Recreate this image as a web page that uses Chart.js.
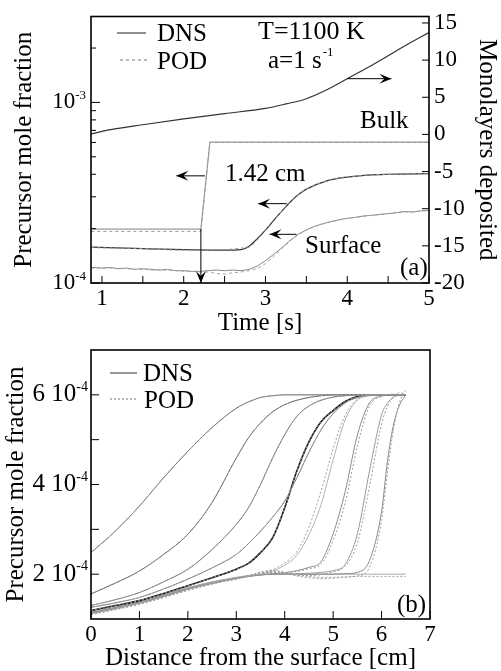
<!DOCTYPE html>
<html>
<head>
<meta charset="utf-8">
<script src="https://cdn.jsdelivr.net/npm/chart.js@4.4.0/dist/chart.umd.min.js"></script>
<style>
  html, body { margin: 0; padding: 0; background: #fff; }
  #panelA { position: absolute; left: 0; top: 0; width: 501px; height: 340px; }
  #panelB { position: absolute; left: 0; top: 340px; width: 501px; height: 331px; }
</style>
</head>
<body>
<div id="panelA"><canvas id="chartA"></canvas></div>
<div id="panelB"><canvas id="chartB"></canvas></div>
<script>
// ---- panel (a): values vs time, mole fractions in units of 1e-4 ----
const monoTime = [0.87, 1, 1.5, 2, 2.5, 3, 3.25, 3.5, 3.75, 4, 4.25, 4.5, 4.75, 5];
const monoDNS  = [0.05, 0.4, 1.3, 2.1, 2.8, 3.5, 4.1, 4.8, 6.0, 7.5, 9.0, 10.6, 12.2, 13.7];

const stepTime = [0.87, 2.21, 2.32, 5];
const stepDNS  = [1.99, 1.99, 6.02, 6.02];
const stepPOD  = [1.93, 1.93, 6.0, 6.0];

const midTime = [0.87, 1.5, 2, 2.5, 2.7, 2.8, 2.9, 3, 3.1, 3.2, 3.3, 3.4, 3.5, 3.75, 4, 4.25, 4.5, 5];
const midDNS  = [1.58, 1.55, 1.53, 1.52, 1.53, 1.6, 1.76, 1.96, 2.22, 2.5, 2.8, 3.08, 3.31, 3.68, 3.86, 3.96, 4.0, 4.03];
const midPOD  = [1.57, 1.55, 1.52, 1.53, 1.56, 1.58, 1.73, 1.95, 2.2, 2.5, 2.8, 3.08, 3.31, 3.68, 3.86, 3.96, 4.0, 4.03];

const surfTime = [0.87, 1.0, 1.1, 1.2, 1.3, 1.4, 1.5, 1.6, 1.7, 1.8, 1.9, 2.0, 2.1, 2.2, 2.3, 2.4, 2.5, 2.6, 2.7, 2.8,
                  2.9, 3.0, 3.1, 3.2, 3.3, 3.4, 3.5, 3.6, 3.7, 3.8, 3.9, 4.0, 4.1, 4.2, 4.3, 4.4, 4.5, 4.6, 4.7, 4.8, 4.9, 5.0];
const surfDNS  = [1.22, 1.21, 1.22, 1.20, 1.21, 1.19, 1.20, 1.19, 1.18, 1.19, 1.17, 1.17, 1.16, 1.16, 1.17, 1.18, 1.17, 1.18, 1.17, 1.19,
                  1.24, 1.33, 1.44, 1.57, 1.72, 1.86, 1.97, 2.06, 2.13, 2.19, 2.24, 2.28, 2.31, 2.35, 2.37, 2.40, 2.42, 2.45, 2.49, 2.47, 2.51, 2.52];
const surfPOD  = [1.21, 1.21, 1.21, 1.20, 1.20, 1.19, 1.19, 1.18, 1.18, 1.18, 1.17, 1.16, 1.16, 1.15, 1.15, 1.13, 1.12, 1.14, 1.15, 1.17,
                  1.20, 1.28, 1.40, 1.55, 1.71, 1.85, 1.96, 2.05, 2.12, 2.18, 2.23, 2.28, 2.31, 2.34, 2.37, 2.39, 2.42, 2.45, 2.47, 2.48, 2.50, 2.52];

const timeTicks  = [1, 1.5, 2, 2.5, 3, 3.5, 4, 4.5, 5];
const fracTicksA = [1, 2, 3, 4, 5, 6, 7, 8, 9, 10, 20];
const monoTicks  = [-20, -15, -10, -5, 0, 5, 10, 15];

// arrows in data units: [x1, y1, x2, y2, axis]
const arrowsA = [
  [4.0, 7.5, 4.54, 7.5, 'y2'],
  [2.26, 3.92, 1.91, 3.92, 'y'],
  [3.26, 2.75, 2.91, 2.75, 'y'],
  [3.38, 1.86, 3.05, 1.86, 'y'],
  [2.21, 1.99, 2.21, 1.0, 'y']
];

// ---- panel (b): profiles vs distance, units of 1e-4 ----
const distX = [0, 0.5, 1, 1.5, 2, 2.5, 3, 3.25, 3.5, 3.75, 4, 4.25, 4.5, 4.75, 5, 5.25, 5.5, 5.75, 6, 6.125, 6.25, 6.375, 6.5];
const dns1  = [2.48, 2.96, 3.52, 4.15, 4.74, 5.27, 5.70, 5.84, 5.94, 5.98, 6, 6, 6, 6, 6, 6, 6, 6, 6, 6, 6, 6, 6];
const dns2  = [1.56, 1.80, 2.07, 2.44, 2.89, 3.60, 4.59, 5.04, 5.37, 5.62, 5.78, 5.88, 5.94, 5.98, 6, 6, 6, 6, 6, 6, 6, 6, 6];
const dns3  = [1.30, 1.43, 1.59, 1.83, 2.11, 2.55, 3.11, 3.48, 4.00, 4.59, 5.11, 5.52, 5.75, 5.88, 5.95, 5.98, 6, 6, 6, 6, 6, 6, 6];
const dns4  = [1.26, 1.36, 1.48, 1.67, 1.89, 2.14, 2.44, 2.68, 2.96, 3.27, 3.63, 4.15, 4.72, 5.22, 5.58, 5.82, 5.94, 5.99, 6, 6, 6, 6, 6];
const dns5  = [1.19, 1.30, 1.41, 1.57, 1.74, 1.92, 2.11, 2.24, 2.48, 2.81, 3.48, 4.30, 4.95, 5.40, 5.65, 5.85, 5.96, 6, 6, 6, 6, 6, 6];
const dns6  = [1.17, 1.28, 1.40, 1.55, 1.70, 1.83, 1.93, 1.97, 2.00, 2.07, 2.20, 2.42, 2.88, 3.55, 4.55, 5.45, 5.88, 5.98, 6, 6, 6, 6, 6];
const dns7  = [1.15, 1.26, 1.38, 1.53, 1.69, 1.82, 1.92, 1.96, 1.99, 2.01, 2.03, 2.08, 2.15, 2.28, 2.90, 3.85, 5.10, 5.82, 5.97, 5.99, 6, 6, 6];
const dns8  = [1.14, 1.25, 1.37, 1.52, 1.68, 1.81, 1.92, 1.96, 1.99, 2.00, 2.00, 2.01, 2.02, 2.04, 2.08, 2.22, 2.90, 4.30, 5.55, 5.82, 5.95, 5.99, 6];
const dns9  = [1.13, 1.24, 1.36, 1.51, 1.67, 1.80, 1.91, 1.95, 1.98, 2.00, 2.00, 2.00, 2.00, 2.00, 2.00, 2.01, 2.04, 2.30, 3.40, 4.55, 5.35, 5.78, 6];
const dns10 = [1.12, 1.23, 1.35, 1.50, 1.66, 1.79, 1.90, 1.95, 1.98, 2.00, 2.00, 2.00, 2.00, 2.00, 2.00, 2.00, 2.00, 2.00, 2.00, 2.00, 2.00, 2.00, 2.00];
const pod6  = [1.15, 1.26, 1.38, 1.54, 1.69, 1.82, 1.92, 1.97, 2.02, 2.10, 2.25, 2.50, 3.05, 3.85, 4.80, 5.55, 5.90, 5.99, 6, 6, 6, 6, 6];
const pod7  = [1.14, 1.25, 1.37, 1.52, 1.68, 1.81, 1.91, 1.96, 2.02, 2.05, 2.04, 2.06, 2.12, 2.22, 2.75, 3.60, 4.85, 5.75, 5.97, 6, 6.02, 6, 6];
const pod8  = [1.12, 1.23, 1.35, 1.50, 1.66, 1.80, 1.91, 1.97, 2.03, 2.04, 2.01, 1.98, 1.97, 1.99, 2.05, 2.18, 2.70, 3.95, 5.35, 5.75, 5.95, 6.05, 6];
const pod9  = [1.10, 1.21, 1.33, 1.48, 1.64, 1.78, 1.89, 1.95, 2.02, 2.06, 2.03, 1.98, 1.95, 1.93, 1.93, 1.94, 1.96, 2.15, 3.20, 4.30, 5.25, 5.85, 6.1];
const pod10 = [1.10, 1.21, 1.33, 1.48, 1.64, 1.78, 1.89, 1.95, 2.05, 2.09, 2.04, 1.96, 1.92, 1.90, 1.91, 1.93, 1.95, 1.95, 1.95, 1.95, 1.95, 1.95, 1.95];

const dnsProfiles = [dns1, dns2, dns3, dns4, dns5, dns6, dns7, dns8, dns9, dns10];
const podProfiles = [dns1, dns2, dns3, dns4, dns5, pod6, pod7, pod8, pod9, pod10]; // POD sits on DNS for the first five
const profileColors = ['#6a6a6a', '#5a5a5a', '#747474', '#7c7c7c', '#111111', '#b0b0b0', '#8a8a8a', '#9a9a9a', '#888888', '#ababab'];
const distTicks = [0, 1, 2, 3, 4, 5, 6, 7];
const fracTicksB = [2, 3, 4, 5, 6];

const serif = "'Liberation Serif', 'Times New Roman', serif";
Chart.defaults.font.family = serif;
Chart.defaults.color = '#000';

function line(xs, ys, axis, color, width, dash, smooth) {
  return {
    data: xs.map((x, i) => ({ x: x, y: ys[i] })),
    yAxisID: axis,
    borderColor: color,
    borderWidth: width,
    borderDash: dash,
    pointRadius: 0,
    fill: false,
    tension: smooth ? 0.4 : 0,
    cubicInterpolationMode: smooth ? 'monotone' : 'default'
  };
}

function supText(ctx, x, y, base, exp, size) {
  // x = right edge of the whole label
  const es = Math.round(size * 0.55);
  ctx.font = size + 'px ' + serif;
  const bw = ctx.measureText(base).width;
  ctx.font = es + 'px ' + serif;
  const ew = ctx.measureText(exp).width;
  const x0 = x - bw - ew;
  ctx.textAlign = 'left';
  ctx.textBaseline = 'middle';
  ctx.font = size + 'px ' + serif;
  ctx.fillText(base, x0, y);
  ctx.font = es + 'px ' + serif;
  ctx.fillText(exp, x0 + bw, y - size * 0.3);
}

function text(ctx, s, x, y, size) {
  ctx.font = size + 'px ' + serif;
  ctx.textAlign = 'left';
  ctx.textBaseline = 'middle';
  ctx.fillText(s, x, y);
  return ctx.measureText(s).width;
}

function arrow(ctx, x1, y1, x2, y2) {
  ctx.beginPath();
  ctx.moveTo(x1, y1);
  ctx.lineTo(x2, y2);
  ctx.stroke();
  const ang = Math.atan2(y2 - y1, x2 - x1);
  ctx.save();
  ctx.translate(x2, y2);
  ctx.rotate(ang);
  ctx.beginPath();
  ctx.moveTo(0, 0);
  ctx.lineTo(-12, -5);
  ctx.lineTo(-7, 0);
  ctx.lineTo(-12, 5);
  ctx.closePath();
  ctx.fill();
  ctx.restore();
}

function drawTicksAndFrame(chart, lenOf) {
  const { ctx, chartArea: a } = chart;
  ctx.save();
  ctx.strokeStyle = '#000';
  ctx.lineWidth = 1;
  Object.values(chart.scales).forEach(s => {
    s.ticks.forEach(t => {
      const p = s.getPixelForValue(t.value);
      const len = lenOf(s.id, t.value);
      ctx.beginPath();
      if (s.id === 'x') { ctx.moveTo(p, a.bottom); ctx.lineTo(p, a.bottom - len); }
      else if (s.position === 'left') { ctx.moveTo(a.left, p); ctx.lineTo(a.left + len, p); }
      else { ctx.moveTo(a.right, p); ctx.lineTo(a.right - len, p); }
      ctx.stroke();
    });
  });
  ctx.lineWidth = 1.6;
  ctx.strokeRect(a.left, a.top, a.right - a.left, a.bottom - a.top);
  ctx.restore();
}

const decorA = {
  id: 'decorA',
  afterDraw(chart) {
    const ctx = chart.ctx;
    const sx = chart.scales.x, sy = chart.scales.y, sy2 = chart.scales.y2;
    drawTicksAndFrame(chart, (id, v) => id === 'y' ? (v === 1 || v === 10 ? 9 : 5) : 7);
    ctx.save();
    ctx.fillStyle = '#000';
    ctx.strokeStyle = '#000';
    supText(ctx, 86, sy.getPixelForValue(10), '10', '-3', 23);
    supText(ctx, 86, sy.getPixelForValue(1), '10', '-4', 23);
    // legend
    ctx.lineWidth = 1;
    ctx.strokeStyle = '#222';
    ctx.beginPath(); ctx.moveTo(117, 33); ctx.lineTo(146, 33); ctx.stroke();
    ctx.strokeStyle = '#777';
    ctx.setLineDash([3, 3]);
    ctx.beginPath(); ctx.moveTo(120, 60); ctx.lineTo(147, 60); ctx.stroke();
    ctx.setLineDash([]);
    text(ctx, 'DNS', 157, 34, 25);
    text(ctx, 'POD', 157, 62, 25);
    text(ctx, 'T=1100 K', 258, 32, 26);
    const w = text(ctx, 'a=1 s', 268, 61, 25);
    text(ctx, '-1', 268 + w + 1, 53, 13);
    text(ctx, 'Bulk', 360, 121, 25);
    text(ctx, '1.42 cm', 225, 174, 25);
    text(ctx, 'Surface', 305, 246, 25);
    text(ctx, '(a)', 400, 268, 25);
    // arrows
    ctx.strokeStyle = '#000';
    ctx.lineWidth = 1;
    arrowsA.forEach(([x1, y1, x2, y2, ax]) => {
      const s = ax === 'y2' ? sy2 : sy;
      arrow(ctx, sx.getPixelForValue(x1), s.getPixelForValue(y1), sx.getPixelForValue(x2), s.getPixelForValue(y2));
    });
    ctx.restore();
  }
};

const decorB = {
  id: 'decorB',
  afterDraw(chart) {
    const ctx = chart.ctx;
    const sy = chart.scales.y;
    drawTicksAndFrame(chart, () => 8);
    ctx.save();
    ctx.fillStyle = '#000';
    [6, 4, 2].forEach(v => supText(ctx, 88, sy.getPixelForValue(v), v + ' 10', '-4', 25));
    ctx.lineWidth = 1;
    ctx.strokeStyle = '#333';
    ctx.beginPath(); ctx.moveTo(110, 33); ctx.lineTo(137, 33); ctx.stroke();
    ctx.strokeStyle = '#777';
    ctx.setLineDash([2, 2]);
    ctx.beginPath(); ctx.moveTo(110, 59); ctx.lineTo(137, 59); ctx.stroke();
    ctx.setLineDash([]);
    text(ctx, 'DNS', 143, 34, 25);
    text(ctx, 'POD', 144, 61, 25);
    text(ctx, '(b)', 397, 265, 25);
    ctx.restore();
  }
};

const hidden = { display: false, drawTicks: false };

new Chart(document.getElementById('chartA'), {
  type: 'line',
  data: {
    datasets: [
      line(surfTime, surfPOD, 'y', '#a0a0a0', 1, [3, 3], false),
      line(surfTime, surfDNS, 'y', '#8a8a8a', 1, [], false),
      line(midTime, midPOD, 'y', '#999999', 1, [3, 3], true),
      line(midTime, midDNS, 'y', '#333333', 1.2, [], true),
      line(stepTime, stepPOD, 'y', '#999999', 1, [3, 3], false),
      line(stepTime, stepDNS, 'y', '#9a9a9a', 1.2, [], false),
      line(monoTime, monoDNS, 'y2', '#333333', 1.2, [], true)
    ]
  },
  options: {
    responsive: true,
    maintainAspectRatio: false,
    animation: false,
    layout: { padding: { top: 14, left: 0, right: 0, bottom: 0 } },
    plugins: { legend: { display: false }, tooltip: { enabled: false } },
    scales: {
      x: {
        type: 'linear', min: 0.866, max: 5,
        afterBuildTicks: s => { s.ticks = timeTicks.map(v => ({ value: v })); },
        afterFit: s => { s.height = 57; },
        grid: hidden, border: { display: false },
        ticks: { font: { size: 23, lineHeight: 1 }, padding: 4, maxRotation: 0, autoSkip: false,
                 callback: v => Number.isInteger(v) ? String(v) : '' },
        title: { display: true, text: 'Time [s]', font: { size: 25, lineHeight: 1 }, padding: { top: 0, bottom: 4 } }
      },
      y: {
        type: 'logarithmic', position: 'left', min: 1, max: 29.9,
        afterBuildTicks: s => { s.ticks = fracTicksA.map(v => ({ value: v })); },
        afterFit: s => { s.width = 91; },
        grid: hidden, border: { display: false },
        ticks: { display: false },
        title: { display: true, text: 'Precursor mole fraction', font: { size: 25, lineHeight: 1 }, padding: { top: 12, bottom: 0 } }
      },
      y2: {
        type: 'linear', position: 'right', min: -20, max: 15.87,
        afterBuildTicks: s => { s.ticks = monoTicks.map(v => ({ value: v })); },
        afterFit: s => { s.width = 72; },
        grid: hidden, border: { display: false },
        ticks: { font: { size: 23, lineHeight: 1 }, padding: 5, autoSkip: false, callback: v => String(v) },
        title: { display: true, text: 'Monolayers deposited', font: { size: 25, lineHeight: 1 }, padding: { top: 2, bottom: 0 } }
      }
    }
  },
  plugins: [decorA]
});

const datasetsB = [];
podProfiles.forEach(ys => datasetsB.push(line(distX, ys, 'y', '#9c9c9c', 1, [2, 2], true)));
dnsProfiles.forEach((ys, i) => datasetsB.push(line(distX, ys, 'y', profileColors[i], i === 4 ? 1.6 : 1, [], true)));

new Chart(document.getElementById('chartB'), {
  type: 'line',
  data: { datasets: datasetsB },
  options: {
    responsive: true,
    maintainAspectRatio: false,
    animation: false,
    layout: { padding: { top: 10, left: 0, right: 71, bottom: 0 } },
    plugins: { legend: { display: false }, tooltip: { enabled: false } },
    scales: {
      x: {
        type: 'linear', min: 0, max: 7,
        afterBuildTicks: s => { s.ticks = distTicks.map(v => ({ value: v })); },
        afterFit: s => { s.height = 52; },
        grid: hidden, border: { display: false },
        ticks: { font: { size: 23, lineHeight: 1 }, padding: 4, maxRotation: 0, autoSkip: false },
        title: { display: true, text: 'Distance from the surface [cm]', font: { size: 25, lineHeight: 1 }, padding: { top: 0, bottom: 0 } }
      },
      y: {
        type: 'linear', position: 'left', min: 1, max: 7,
        afterBuildTicks: s => { s.ticks = fracTicksB.map(v => ({ value: v })); },
        afterFit: s => { s.width = 91; },
        grid: hidden, border: { display: false },
        ticks: { display: false },
        title: { display: true, text: 'Precursor mole fraction', font: { size: 25, lineHeight: 1 }, padding: { top: 4, bottom: 0 } }
      }
    }
  },
  plugins: [decorB]
});
</script>
</body>
</html>
